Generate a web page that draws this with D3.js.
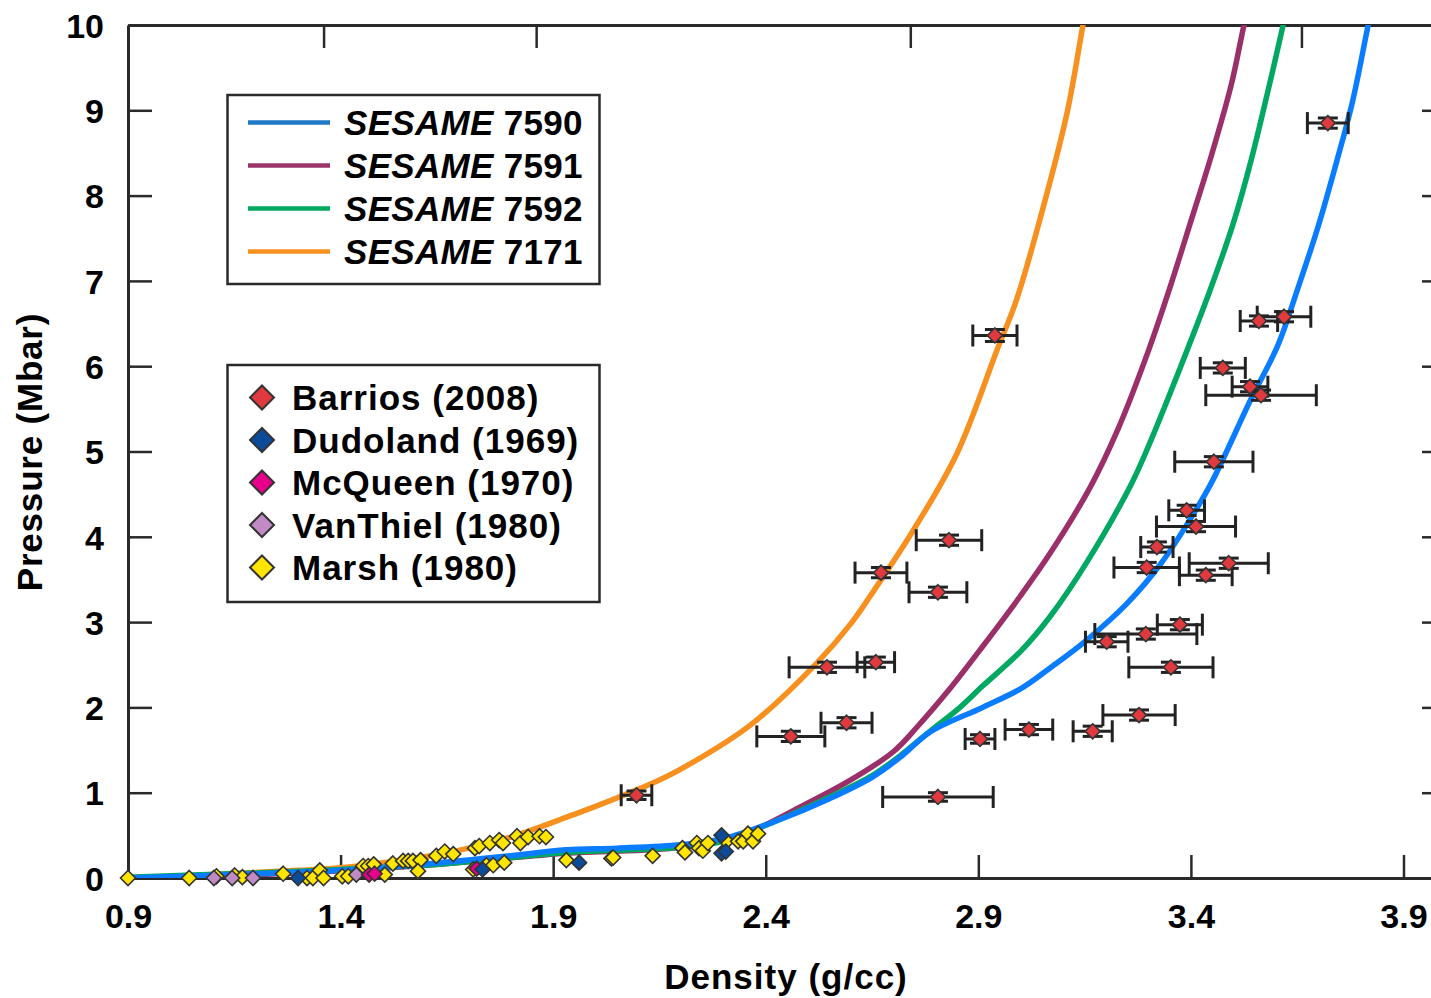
<!DOCTYPE html>
<html>
<head>
<meta charset="utf-8">
<script src="https://cdn.jsdelivr.net/npm/d3@7"></script>
<style>
  html, body { margin: 0; padding: 0; background: #fff; }
  svg { display: block; }
  text { font-family: "Liberation Sans", Arial, Helvetica, sans-serif; font-weight: bold; fill: #000; }
</style>
</head>
<body>
<div id="chart"></div>
<script>
// ---------- data ----------
const xTicks = [0.9, 1.4, 1.9, 2.4, 2.9, 3.4, 3.9];
const yTicks = [0, 1, 2, 3, 4, 5, 6, 7, 8, 9, 10];
const topTicks = [1.36, 1.86, 2.74, 3.66];

const curveNames = ["7590", "7591", "7592", "7171"];

const sesame7590 = [
  [0.9, 0], [1.2, 0.05], [1.4, 0.09], [1.633, 0.18], [1.8, 0.26], [1.93, 0.33],
  [2.05, 0.35], [2.2, 0.39], [2.3, 0.46], [2.42, 0.66], [2.55, 0.93], [2.65, 1.18],
  [2.72, 1.43], [2.786, 1.71], [2.91, 2.0], [3.0, 2.22], [3.068, 2.46], [3.155, 2.79],
  [3.25, 3.22], [3.33, 3.69], [3.40, 4.22], [3.45, 4.65], [3.54, 5.6], [3.605, 6.25],
  [3.65, 6.89], [3.70, 7.65], [3.744, 8.42], [3.78, 9.1], [3.817, 10], [3.83, 10.3]
];
const sesame7591 = [
  [0.9, 0], [1.3, 0.06], [1.6, 0.15], [1.93, 0.29], [2.2, 0.36], [2.35, 0.52],
  [2.48, 0.83], [2.6, 1.15], [2.7, 1.48], [2.756, 1.77], [2.83, 2.2], [2.911, 2.72],
  [2.998, 3.3], [3.068, 3.8], [3.163, 4.58], [3.23, 5.28], [3.30, 6.18], [3.346, 6.85],
  [3.40, 7.7], [3.45, 8.5], [3.495, 9.3], [3.525, 10], [3.54, 10.3]
];
const sesame7592 = [
  [0.9, 0.01], [1.2, 0.06], [1.4, 0.1], [1.633, 0.16], [1.93, 0.30], [2.2, 0.36],
  [2.3, 0.43], [2.42, 0.66], [2.55, 0.95], [2.65, 1.2], [2.72, 1.45], [2.786, 1.72],
  [2.85, 1.97], [2.91, 2.25], [3.0, 2.66], [3.068, 3.06], [3.155, 3.7], [3.26, 4.62],
  [3.30, 5.06], [3.37, 5.92], [3.445, 6.89], [3.50, 7.68], [3.542, 8.42], [3.58, 9.2],
  [3.617, 10], [3.63, 10.3]
];
const sesame7171 = [
  [0.9, 0], [1.1, 0.04], [1.3, 0.09], [1.4, 0.12], [1.5, 0.18], [1.657, 0.30],
  [1.8, 0.48], [1.946, 0.74], [2.01, 0.86], [2.15, 1.15], [2.198, 1.27], [2.363, 1.79],
  [2.52, 2.52], [2.603, 3.0], [2.645, 3.3], [2.75, 4.1], [2.85, 4.98], [2.944, 6.19],
  [2.99, 6.78], [3.06, 8.0], [3.11, 9.0], [3.146, 10], [3.16, 10.4]
];

const barriosDensity = [3.722, 2.939, 3.619, 3.56, 3.475, 3.539, 3.565, 3.454, 3.39, 3.412,
  2.831, 3.32, 3.489, 3.296, 2.671, 3.435, 2.805, 3.374, 3.294, 3.202, 2.659, 2.544, 3.353,
  3.278, 2.59, 3.019, 3.169, 2.459, 2.904, 2.096, 2.805];
const barriosPressure = [8.85, 6.36, 6.58, 6.53, 5.98, 5.76, 5.66, 4.88, 4.31, 4.12,
  3.96, 3.88, 3.69, 3.64, 3.58, 3.55, 3.35, 2.97, 2.86, 2.77, 2.53, 2.47, 2.47,
  1.91, 1.82, 1.74, 1.72, 1.66, 1.63, 0.97, 0.95];
const barriosDensityErr = [0.048, 0.052, 0.063, 0.044, 0.053, 0.042, 0.13, 0.092, 0.042, 0.093,
  0.077, 0.038, 0.093, 0.077, 0.061, 0.062, 0.068, 0.053, 0.12, 0.05, 0.044, 0.089, 0.099,
  0.085, 0.06, 0.056, 0.046, 0.08, 0.035, 0.036, 0.13];
const barriosPressureErr = [0.06, 0.07, 0.06, 0.06, 0.06, 0.06, 0.06, 0.06, 0.06, 0.06,
  0.06, 0.06, 0.06, 0.06, 0.06, 0.06, 0.06, 0.06, 0.06, 0.06, 0.06, 0.06, 0.06,
  0.06, 0.06, 0.06, 0.06, 0.06, 0.05, 0.05, 0.05];

const dudolandDensity = [1.30, 1.734, 1.961, 2.296, 2.296, 2.306];
const dudolandPressure = [0.0, 0.10, 0.18, 0.50, 0.29, 0.31];

const mcqueenDensity = [1.467, 1.48, 1.72];
const mcqueenPressure = [0.04, 0.05, 0.11];

const vanthielDensity = [1.102, 1.145, 1.194, 1.437];
const vanthielPressure = [0.0, 0.0, 0.0, 0.04];

const marshDensity = [0.9, 1.044, 1.108, 1.151, 1.169, 1.265, 1.321, 1.335, 1.351, 1.36,
  1.404, 1.418, 1.453, 1.465, 1.478, 1.504, 1.523, 1.547, 1.559, 1.57, 1.588, 1.582,
  1.625, 1.645, 1.665, 1.712, 1.716, 1.726, 1.743, 1.751, 1.759, 1.773, 1.782, 1.785,
  1.815, 1.823, 1.841, 1.868, 1.883, 1.931, 2.037, 2.041, 2.134, 2.204, 2.21, 2.238,
  2.243, 2.252, 2.264, 2.308, 2.335, 2.347, 2.358, 2.37, 2.382];
const marshPressure = [0.0, 0.0, 0.02, 0.03, 0.01, 0.05, 0.0, 0.0, 0.09, 0.0,
  0.02, 0.02, 0.14, 0.14, 0.16, 0.04, 0.17, 0.2, 0.2, 0.2, 0.21, 0.08,
  0.26, 0.31, 0.28, 0.10, 0.35, 0.375, 0.15, 0.41, 0.15, 0.445, 0.41, 0.18,
  0.49, 0.41, 0.48, 0.49, 0.48, 0.21, 0.23, 0.24, 0.26, 0.35, 0.30, 0.41,
  0.35, 0.32, 0.41, 0.43, 0.43, 0.43, 0.52, 0.43, 0.52];

const sourceNames = ["Barrios (2008)", "Dudoland (1969)", "McQueen (1970)", "VanThiel (1980)", "Marsh (1980)"];

// ---------- setup ----------
const W = 1431, H = 998;
const svg = d3.select("#chart").append("svg").attr("width", W).attr("height", H);

const x = d3.scaleLinear().domain([0.9, 4.0]).range([128, 1446]);
const y = d3.scaleLinear().domain([0, 10]).range([878, 25]);

const curveColors = {"7590": "#0a7cff", "7591": "#9b2f6a", "7592": "#00a862", "7171": "#f7901e"};
const legendLineColors = {"7590": "#1f78c4", "7591": "#9b3468", "7592": "#00a860", "7171": "#f7901e"};
const curveData = {"7590": sesame7590, "7591": sesame7591, "7592": sesame7592, "7171": sesame7171};
const markerColors = ["#e03a3e", "#0b4c9a", "#e6008a", "#c08ac4", "#ffe500"];

svg.append("defs").append("clipPath").attr("id", "plotclip")
  .append("rect").attr("x", 128).attr("y", 25).attr("width", 1446 - 128).attr("height", 878 - 25);

const axisColor = "#2a2a2a";

// ---------- axes ----------
const fmt = d3.format(".1f");
const gx = svg.append("g").attr("transform", "translate(0,878)")
  .call(d3.axisBottom(x).tickValues(xTicks).tickSize(-23).tickSizeOuter(0).tickPadding(26).tickFormat(fmt));
const gy = svg.append("g").attr("transform", "translate(128,0)")
  .call(d3.axisLeft(y).tickValues(yTicks).tickSize(-24).tickSizeOuter(0).tickPadding(24).tickFormat(d3.format("d")));
const gt = svg.append("g").attr("transform", "translate(0,25)")
  .call(d3.axisTop(x).tickValues(topTicks).tickSize(-23).tickSizeOuter(0).tickFormat(""));
const gr = svg.append("g").attr("transform", "translate(1446,0)")
  .call(d3.axisRight(y).tickValues(yTicks.slice(1, 10)).tickSize(-24).tickSizeOuter(0).tickFormat(""));

[gx, gy, gt, gr].forEach(g => {
  g.selectAll("path.domain").attr("stroke", axisColor).attr("stroke-width", 3);
  g.selectAll(".tick line").attr("stroke", axisColor).attr("stroke-width", 2.5);
  g.selectAll(".tick text").style("font-family", "'Liberation Sans', Arial, sans-serif")
    .style("font-weight", "bold").style("font-size", "34px").attr("fill", "#000");
});
gy.selectAll(".tick text").attr("dy", "0.36em");

// axis titles
svg.append("text").attr("x", 786).attr("y", 989).attr("text-anchor", "middle")
  .style("font-size", "35px").style("letter-spacing", "1px").text("Density (g/cc)");
svg.append("text").attr("transform", "translate(42,452) rotate(-90)").attr("text-anchor", "middle")
  .style("font-size", "35px").style("letter-spacing", "0.8px").text("Pressure (Mbar)");

// ---------- curves ----------
const line = d3.line().x(d => x(d[0])).y(d => y(d[1])).curve(d3.curveCatmullRom.alpha(0.5));
const plot = svg.append("g").attr("clip-path", "url(#plotclip)");
["7171", "7591", "7592", "7590"].forEach(k => {
  plot.append("path").datum(curveData[k]).attr("d", line)
    .attr("fill", "none").attr("stroke", curveColors[k]).attr("stroke-width", 5.5)
    .attr("stroke-linejoin", "round");
});

// ---------- markers ----------
const diamond = (cx, cy, r) => `M${cx},${cy - r}L${cx + r},${cy}L${cx},${cy + r}L${cx - r},${cy}Z`;
function drawSet(xs, ys, color) {
  const pts = xs.map((v, i) => [v, ys[i]]);
  svg.append("g").selectAll("path").data(pts).join("path")
    .attr("d", d => diamond(x(d[0]), y(d[1]), 7.5))
    .attr("fill", color).attr("stroke", "#333").attr("stroke-width", 1.6);
}
drawSet(marshDensity, marshPressure, markerColors[4]);
drawSet(vanthielDensity, vanthielPressure, markerColors[3]);
drawSet(mcqueenDensity, mcqueenPressure, markerColors[2]);
drawSet(dudolandDensity, dudolandPressure, markerColors[1]);

// Barrios with error bars
const eb = svg.append("g").attr("stroke", "#222").attr("stroke-width", 3);
barriosDensity.forEach((d, i) => {
  const cx = x(d), cy = y(barriosPressure[i]);
  const x0 = x(d - barriosDensityErr[i]), x1 = x(d + barriosDensityErr[i]);
  const y0 = y(barriosPressure[i] - barriosPressureErr[i]), y1 = y(barriosPressure[i] + barriosPressureErr[i]);
  eb.append("line").attr("x1", x0).attr("x2", x1).attr("y1", cy).attr("y2", cy);
  eb.append("line").attr("x1", x0).attr("x2", x0).attr("y1", cy - 11).attr("y2", cy + 11);
  eb.append("line").attr("x1", x1).attr("x2", x1).attr("y1", cy - 11).attr("y2", cy + 11);
  eb.append("line").attr("x1", cx).attr("x2", cx).attr("y1", y0).attr("y2", y1);
  eb.append("line").attr("x1", cx - 10).attr("x2", cx + 10).attr("y1", y0).attr("y2", y0);
  eb.append("line").attr("x1", cx - 10).attr("x2", cx + 10).attr("y1", y1).attr("y2", y1);
});
drawSet(barriosDensity, barriosPressure, markerColors[0]);

// ---------- legend 1 (curves) ----------
const lg1 = svg.append("g");
lg1.append("rect").attr("x", 227.5).attr("y", 95).attr("width", 372).attr("height", 189)
  .attr("fill", "#fff").attr("stroke", "#2a2a2a").attr("stroke-width", 2.5);
curveNames.forEach((k, i) => {
  const cy = 122.5 + i * 43;
  lg1.append("line").attr("x1", 248).attr("x2", 330).attr("y1", cy).attr("y2", cy)
    .attr("stroke", legendLineColors[k]).attr("stroke-width", 4.5);
  const t = lg1.append("text").attr("x", 344).attr("y", cy + 12.5).style("font-size", "35px")
    .style("letter-spacing", "0.3px");
  t.append("tspan").style("font-style", "italic").text("SESAME");
  t.append("tspan").text(" " + k);
});

// ---------- legend 2 (data sources) ----------
const lg2 = svg.append("g");
lg2.append("rect").attr("x", 227.5).attr("y", 365).attr("width", 372).attr("height", 237)
  .attr("fill", "#fff").attr("stroke", "#2a2a2a").attr("stroke-width", 2.5);
sourceNames.forEach((name, i) => {
  const cy = 397.5 + i * 42.5;
  lg2.append("path").attr("d", diamond(262, cy, 12))
    .attr("fill", markerColors[i]).attr("stroke", "#333").attr("stroke-width", 2);
  lg2.append("text").attr("x", 292).attr("y", cy + 12.5).style("font-size", "35px")
    .style("letter-spacing", "1px").text(name);
});
</script>
</body>
</html>
